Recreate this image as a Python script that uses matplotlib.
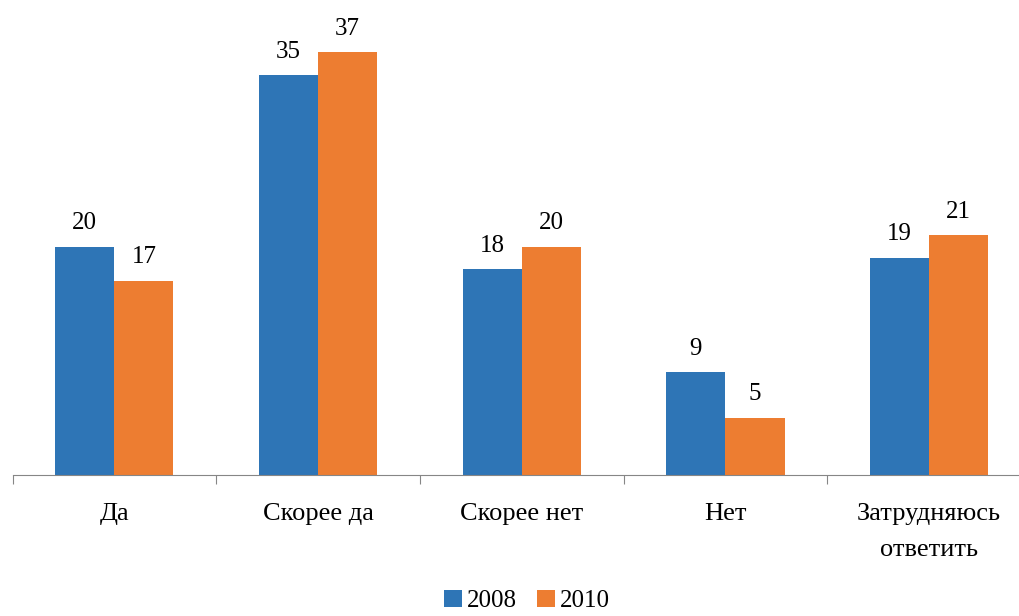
import matplotlib.pyplot as plt
import numpy as np

plt.rcParams['font.family'] = ['Liberation Serif', 'DejaVu Serif']

categories = ["Да", "Скорее да", "Скорее нет", "Нет", "Затрудняюсь\nответить"]
series_2008 = [20, 35, 18, 9, 19]
series_2010 = [17, 37, 20, 5, 21]
years = ["2008", "2010"]

blue = "#2E75B6"
orange = "#ED7D31"

fig = plt.figure(figsize=(10.19, 6.16), dpi=100)
# last category boundary falls just past the right edge, as in the original
ax = fig.add_axes([12.5 / 1019, 141 / 616, 1018.5 / 1019, 457 / 616])

x = np.arange(len(categories))
w = 0.29
b1 = ax.bar(x - w / 2, series_2008, w, color=blue, label=years[0])
b2 = ax.bar(x + w / 2, series_2010, w, color=orange, label=years[1])

for bars in (b1, b2):
    for rect in bars:
        ax.annotate(f"{rect.get_height():g}",
                    (rect.get_x() + rect.get_width() / 2, rect.get_height()),
                    xytext=(0, 9), textcoords="offset points",
                    ha="center", va="bottom", fontsize=18)

ax.set_xlim(-0.5, len(categories) - 0.5)
ax.set_ylim(0, 40)

for s in ("top", "right", "left"):
    ax.spines[s].set_visible(False)
ax.spines["bottom"].set_color("#868686")
ax.set_yticks([])

ax.set_xticks(np.arange(len(categories) + 1) - 0.5)
ax.set_xticklabels([])
ax.tick_params(axis="x", which="major", length=6.5, color="#868686")
ax.set_xticks(x, minor=True)
ax.set_xticklabels(categories, minor=True, fontsize=19, linespacing=1.85)
ax.tick_params(axis="x", which="minor", length=0, pad=20)

fig.legend(handles=[b1, b2], loc="center", bbox_to_anchor=(0.517, 1 - 601 / 616),
           ncol=2, frameon=False, fontsize=18, handlelength=0.72,
           handleheight=0.65, handletextpad=0.2, columnspacing=0.8,
           borderpad=0.1)

fig.savefig("out.png", dpi=100)
